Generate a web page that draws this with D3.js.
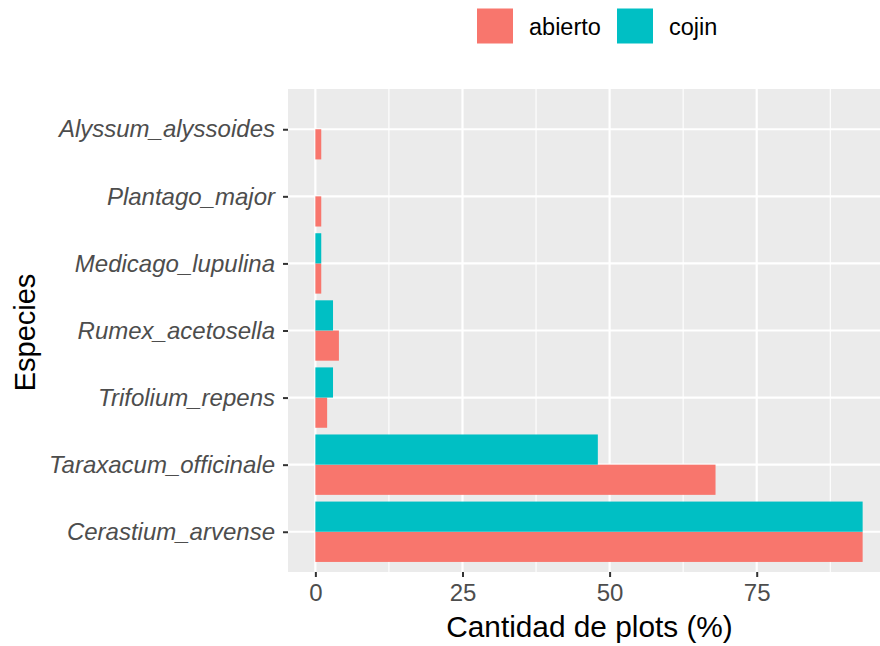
<!DOCTYPE html>
<html>
<head>
<meta charset="utf-8">
<script src="https://cdn.jsdelivr.net/npm/d3@7"></script>
<style>
  html, body { margin: 0; padding: 0; background: #fff; }
  svg { display: block; font-family: "Liberation Sans", Arial, sans-serif; }
</style>
</head>
<body>
<svg id="chart" width="880" height="646"></svg>
<script>
// Data (top to bottom as displayed)
const species = ["Alyssum_alyssoides", "Plantago_major", "Medicago_lupulina", "Rumex_acetosella", "Trifolium_repens", "Taraxacum_officinale", "Cerastium_arvense"];
const abierto = [1, 1, 1, 4, 2, 68, 93];
const cojin   = [0, 0, 1, 3, 3, 48, 93];
const groups = ["abierto", "cojin"];
const groupColors = ["#F8766D", "#00BFC4"];
const xTicks = [0, 25, 50, 75];
const xMinor = [12.5, 37.5, 62.5, 87.5];

const svg = d3.select("#chart");
const panel = { left: 288, top: 89, right: 890, bottom: 572 };

const maxV = d3.max(abierto.concat(cojin));
const x = d3.scaleLinear().domain([-0.05 * maxV, 1.05 * maxV]).range([panel.left, panel.right]);
const y = d3.scalePoint().domain(species).range([panel.top, panel.bottom]).padding(0.6);
const step = y.step();
const barH = 0.45 * step;

// panel background
svg.append("rect")
  .attr("x", panel.left).attr("y", panel.top)
  .attr("width", panel.right - panel.left).attr("height", panel.bottom - panel.top)
  .attr("fill", "#EBEBEB");

// minor grid
svg.append("g").selectAll("line").data(xMinor).join("line")
  .attr("x1", d => x(d)).attr("x2", d => x(d))
  .attr("y1", panel.top).attr("y2", panel.bottom)
  .attr("stroke", "#fff").attr("stroke-width", 1.1);

// major grid
svg.append("g").selectAll("line").data(xTicks).join("line")
  .attr("x1", d => x(d)).attr("x2", d => x(d))
  .attr("y1", panel.top).attr("y2", panel.bottom)
  .attr("stroke", "#fff").attr("stroke-width", 2.2);
svg.append("g").selectAll("line").data(species).join("line")
  .attr("x1", panel.left).attr("x2", panel.right)
  .attr("y1", d => y(d)).attr("y2", d => y(d))
  .attr("stroke", "#fff").attr("stroke-width", 2.2);

// bars
const rows = species.map((s, i) => ({ s, a: abierto[i], c: cojin[i] }));
const bars = svg.append("g");
bars.selectAll("rect.ab").data(rows).join("rect").attr("class", "ab")
  .attr("x", x(0)).attr("y", d => y(d.s))
  .attr("width", d => x(d.a) - x(0)).attr("height", barH)
  .attr("fill", groupColors[0]);
bars.selectAll("rect.co").data(rows).join("rect").attr("class", "co")
  .attr("x", x(0)).attr("y", d => y(d.s) - barH)
  .attr("width", d => x(d.c) - x(0)).attr("height", barH)
  .attr("fill", groupColors[1]);

// x axis
const xAxis = d3.axisBottom(x).tickValues(xTicks).tickSize(5).tickPadding(7).tickFormat(d3.format("d"));
const gx = svg.append("g").attr("transform", `translate(0,${panel.bottom})`).call(xAxis);
gx.select(".domain").remove();
gx.selectAll(".tick line").attr("stroke", "#333").attr("stroke-width", 2);
gx.selectAll(".tick text").attr("fill", "#4D4D4D").style("font-size", "24px")
  .style("font-family", "'Liberation Sans', Arial, sans-serif");

// y axis
const yAxis = d3.axisLeft(y).tickSize(5).tickPadding(8);
const gy = svg.append("g").attr("transform", `translate(${panel.left},0)`).call(yAxis);
gy.select(".domain").remove();
gy.selectAll(".tick line").attr("stroke", "#333").attr("stroke-width", 2);
gy.selectAll(".tick text").attr("fill", "#4D4D4D").style("font-size", "24px")
  .style("font-style", "italic").style("font-family", "'Liberation Sans', Arial, sans-serif");

// titles
svg.append("text").attr("x", 589.5).attr("y", 637)
  .attr("text-anchor", "middle").style("font-size", "29.8px").attr("fill", "#000")
  .text("Cantidad de plots (%)");
svg.append("text").attr("transform", `translate(35,${(panel.top + panel.bottom) / 2 + 2}) rotate(-90)`)
  .attr("text-anchor", "middle").style("font-size", "29px").attr("fill", "#000")
  .text("Especies");

// legend
const legX = [477, 617];
const lg = svg.append("g");
groups.forEach((g, i) => {
  lg.append("rect").attr("x", legX[i]).attr("y", 8.5).attr("width", 36).attr("height", 35)
    .attr("fill", groupColors[i]);
  lg.append("text").attr("x", legX[i] + 52).attr("y", 34.5)
    .style("font-size", "23.5px").attr("fill", "#000").text(g);
});
</script>
</body>
</html>
